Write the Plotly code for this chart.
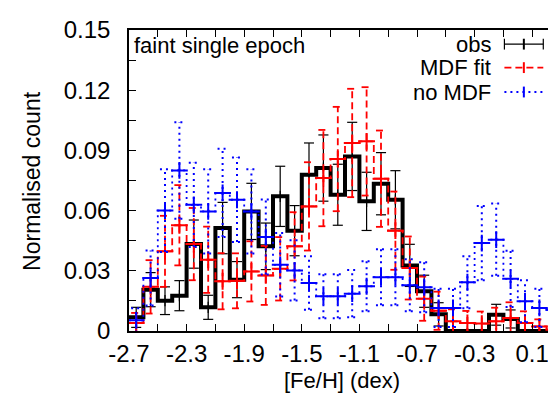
import plotly.graph_objects as go

# bin centres of the [Fe/H] histogram (0.1 dex bins)
feh_centres = [-2.65, -2.55, -2.45, -2.35, -2.25, -2.15, -2.05, -1.95, -1.85, -1.75,
               -1.65, -1.55, -1.45, -1.35, -1.25, -1.15, -1.05, -0.95, -0.85, -0.75,
               -0.65, -0.55, -0.45, -0.35, -0.25, -0.15, -0.05, 0.05, 0.15, 0.25]

obs_vals = [0.0068, 0.0206, 0.0151, 0.0176, 0.0433, 0.0118, 0.0513, 0.0256, 0.0596, 0.0422,
            0.0671, 0.0500, 0.0779, 0.0812, 0.0679, 0.0870, 0.0646, 0.0734, 0.0654, 0.0327,
            0.0198, 0.0083, 0.0, 0.0, 0.0, 0.0081, 0.0060, 0.0, 0.0, 0.0]
obs_err = [0.0050, 0.0085, 0.0069, 0.0075, 0.0120, 0.0060, 0.0128, 0.0090, 0.0140, 0.0116,
           0.0150, 0.0125, 0.0158, 0.0165, 0.0152, 0.0170, 0.0145, 0.0155, 0.0145, 0.0105,
           0.0080, 0.0058, 0.0, 0.0, 0.0, 0.0052, 0.0045, 0.0, 0.0, 0.0]

mdf_vals = [0.0040, 0.0220, 0.0397, 0.0527, 0.0433, 0.0355, 0.0248, 0.0250, 0.0297, 0.0277,
            0.0310, 0.0422, 0.0621, 0.0762, 0.0857, 0.0937, 0.0945, 0.0759, 0.0500, 0.0314,
            0.0161, 0.0101, 0.0048, 0.0040, 0.0037, 0.0048, 0.0065, 0.0040, 0.0023, 0.0007]
mdf_err = [0.0050, 0.0133, 0.0177, 0.0200, 0.0180, 0.0165, 0.0140, 0.0137, 0.0150, 0.0147,
           0.0158, 0.0170, 0.0220, 0.0240, 0.0260, 0.0270, 0.0270, 0.0240, 0.0195, 0.0157,
           0.0110, 0.0095, 0.0060, 0.0060, 0.0060, 0.0068, 0.0078, 0.0058, 0.0035, 0.0020]

nomdf_vals = [0.0053, 0.0264, 0.0600, 0.0800, 0.0629, 0.0596, 0.0688, 0.0654, 0.0596, 0.0468,
              0.0330, 0.0302, 0.0239, 0.0173, 0.0173, 0.0186, 0.0223, 0.0268, 0.0268, 0.0228,
              0.0218, 0.0115, 0.0115, 0.0243, 0.0438, 0.0455, 0.0260, 0.0148, 0.0115, 0.0106]
nomdf_err = [0.0060, 0.0137, 0.0206, 0.0240, 0.0210, 0.0210, 0.0220, 0.0210, 0.0210, 0.0187,
             0.0158, 0.0150, 0.0133, 0.0110, 0.0110, 0.0118, 0.0125, 0.0140, 0.0140, 0.0130,
             0.0125, 0.0095, 0.0095, 0.0130, 0.0185, 0.0180, 0.0140, 0.0105, 0.0095, 0.0090]

x_tick_labels = ["-2.7", "-2.3", "-1.9", "-1.5", "-1.1", "-0.7", "-0.3", "0.1"]
y_tick_labels = ["0", "0.03", "0.06", "0.09", "0.12", "0.15"]

FONT = "Liberation Sans"
FS = 22
TICK_FS = 24
HALF_BIN = 0.05
CAP = 0.035


def step_xy(centres, vals):
    xs = [c - HALF_BIN for c in centres] + [centres[-1] + HALF_BIN]
    ys = list(vals) + [vals[-1]]
    return xs, ys


def errbar_xy(centres, vals, errs):
    xs, ys = [], []
    for c, v, e in zip(centres, vals, errs):
        if e <= 0:
            continue
        lo, hi = v - e, v + e
        xs += [c, c, None, c - CAP, c + CAP, None, c - CAP, c + CAP, None]
        ys += [lo, hi, None, lo, lo, None, hi, hi, None]
    return xs, ys


fig = go.Figure()

series = [
    (obs_vals, obs_err, "black", "solid", 4.0, 1.2, 8, 1.2),
    (mdf_vals, mdf_err, "red", "7px,4px", 1.8, 1.8, 12, 2.0),
    (nomdf_vals, nomdf_err, "blue", "2px,4px", 1.8, 2.0, 12, 2.0),
]

for vals, errs, col, dash, step_w, err_w, msize, mw in series:
    sx, sy = step_xy(feh_centres, vals)
    fig.add_trace(go.Scatter(x=sx, y=sy, mode="lines", line_shape="hv",
                             line=dict(color=col, width=step_w, dash=dash),
                             showlegend=False, hoverinfo="skip"))
    ex, ey = errbar_xy(feh_centres, vals, errs)
    fig.add_trace(go.Scatter(x=ex, y=ey, mode="lines",
                             line=dict(color=col, width=err_w,
                                       dash="solid" if col == "black" else dash),
                             showlegend=False, hoverinfo="skip"))
    fig.add_trace(go.Scatter(x=feh_centres, y=vals, mode="markers",
                             marker=dict(symbol="cross-thin", size=msize,
                                         line=dict(color=col, width=mw)),
                             showlegend=False))

# key in the top right corner, gnuplot style (text then sample)
key_rows = [("obs", "black", "solid", 1.2, 0.953),
            ("MDF fit", "red", "7px,4px", 1.8, 0.875),
            ("no MDF", "blue", "2px,4px", 2.0, 0.794)]
shapes = []
annotations = []
for label, col, dash, w, yk in key_rows:
    annotations.append(dict(text=label, x=0.842, y=yk, xref="paper", yref="paper",
                            xanchor="right", yanchor="middle", showarrow=False,
                            font=dict(family=FONT, size=FS, color="black")))
    shapes.append(dict(type="line", xref="paper", yref="paper", x0=0.869, x1=0.959,
                       y0=yk, y1=yk, line=dict(color=col, width=w, dash=dash)))
    shapes.append(dict(type="line", xref="paper", yref="paper", x0=0.914, x1=0.914,
                       y0=yk - 0.018, y1=yk + 0.018, line=dict(color=col, width=2)))
    if col == "black":
        for xe in (0.869, 0.959):
            shapes.append(dict(type="line", xref="paper", yref="paper", x0=xe, x1=xe,
                               y0=yk - 0.018, y1=yk + 0.018, line=dict(color=col, width=1.2)))

annotations.append(dict(text="faint single epoch", x=0.008, y=0.947, xref="paper", yref="paper",
                        xanchor="left", yanchor="middle", showarrow=False,
                        font=dict(family=FONT, size=FS, color="black")))
annotations.append(dict(text="[Fe/H] (dex)", x=0.493, y=-0.163, xref="paper", yref="paper",
                        xanchor="center", yanchor="middle", showarrow=False,
                        font=dict(family=FONT, size=FS, color="black")))
annotations.append(dict(text="Normalised count", x=-0.225, y=0.498, xref="paper", yref="paper",
                        xanchor="center", yanchor="middle", showarrow=False, textangle=-90,
                        font=dict(family=FONT, size=23, color="black")))

axis_common = dict(showline=True, linecolor="black", linewidth=1.5, mirror="ticks",
                   ticks="inside", ticklen=7, tickcolor="black", tickwidth=1.2,
                   showgrid=False, zeroline=False,
                   tickfont=dict(family=FONT, size=TICK_FS, color="black"))

fig.update_layout(
    width=556, height=400,
    margin=dict(l=121, r=1, t=22, b=77),
    plot_bgcolor="white", paper_bgcolor="white",
    shapes=shapes, annotations=annotations,
    showlegend=False,
)
fig.update_xaxes(range=[-2.7, 0.3], tickvals=[float(t) for t in x_tick_labels],
                 ticktext=x_tick_labels, ticklabelstandoff=0,
                 minor=dict(dtick=0.2, tick0=-2.7, ticks="inside", ticklen=7,
                            tickcolor="black", tickwidth=1.2),
                 **axis_common)
fig.update_yaxes(range=[0, 0.15], tickvals=[float(t) for t in y_tick_labels],
                 ticktext=y_tick_labels, ticklabelstandoff=12,
                 minor=dict(dtick=0.015, tick0=0, ticks="inside", ticklen=7,
                            tickcolor="black", tickwidth=1.2),
                 **axis_common)

fig.write_html("out.html")
